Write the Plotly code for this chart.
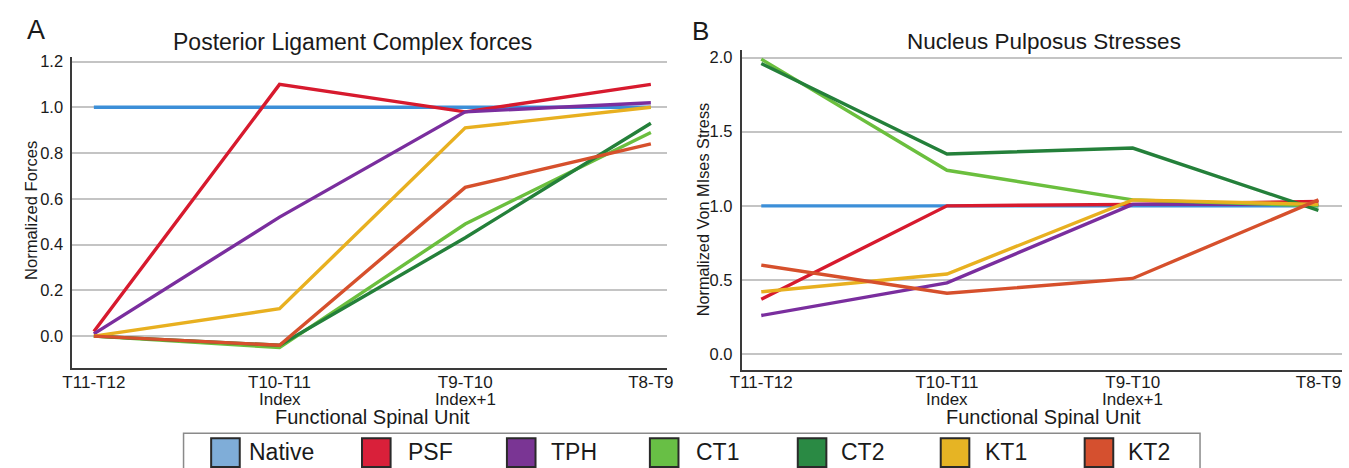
import plotly.graph_objects as go

W, H = 1349, 468

# ---------------- data ----------------
categories = ["T11-T12", "T10-T11", "T9-T10", "T8-T9"]
sub_labels = ["", "Index", "Index+1", ""]
series_names = ["Native", "PSF", "TPH", "CT1", "CT2", "KT1", "KT2"]
line_colors = ["#3c8fd8", "#d71a2e", "#7a2e9e", "#6bbf3e", "#24803a", "#e8b020", "#d6502c"]
swatch_colors = ["#7fadd8", "#d9203a", "#7a3594", "#68bf45", "#2a8a44", "#e6b424", "#d5502f"]

# Panel A: Posterior Ligament Complex forces (normalized)
plc_native = [1.00, 1.00, 1.00, 1.00]
plc_psf = [0.02, 1.10, 0.98, 1.10]
plc_tph = [0.01, 0.52, 0.98, 1.02]
plc_ct1 = [0.00, -0.05, 0.49, 0.89]
plc_ct2 = [0.00, -0.04, 0.43, 0.93]
plc_kt1 = [0.00, 0.12, 0.91, 1.00]
plc_kt2 = [0.00, -0.04, 0.65, 0.84]

# Panel B: Nucleus Pulposus stresses (normalized von Mises)
np_native = [1.00, 1.00, 1.00, 1.00]
np_psf = [0.37, 1.00, 1.01, 1.03]
np_tph = [0.26, 0.48, 1.01, 1.01]
np_ct1 = [1.99, 1.24, 1.04, 1.00]
np_ct2 = [1.96, 1.35, 1.39, 0.97]
np_kt1 = [0.42, 0.54, 1.04, 1.01]
np_kt2 = [0.60, 0.41, 0.51, 1.04]

plc_series = [plc_native, plc_psf, plc_tph, plc_ct1, plc_ct2, plc_kt1, plc_kt2]
np_series = [np_native, np_psf, np_tph, np_ct1, np_ct2, np_kt1, np_kt2]

yticks_a = [0.0, 0.2, 0.4, 0.6, 0.8, 1.0, 1.2]
yticks_b = [0.0, 0.5, 1.0, 1.5, 2.0]

# ---------------- layout constants (pixels) ----------------
FONT = "Liberation Sans, Arial, sans-serif"
TXT = "#1a1a1a"
legend_swatch_x = [202, 355, 502, 647, 797, 942, 1088]
legend_text_x = [238, 400, 545, 692, 839, 985, 1130]


def px(x):
    return x / W


def py(y):
    return 1 - y / H


fig = go.Figure()
for name, color, ya, yb in zip(series_names, line_colors, plc_series, np_series):
    fig.add_trace(go.Scatter(x=categories, y=ya, mode="lines", name=name,
                             line=dict(color=color, width=3.4), xaxis="x", yaxis="y",
                             showlegend=False))
    fig.add_trace(go.Scatter(x=categories, y=yb, mode="lines", name=name,
                             line=dict(color=color, width=3.4), xaxis="x2", yaxis="y2",
                             showlegend=False))

xcommon = dict(showline=True, linecolor="#3a3a3a", linewidth=1.5, ticks="",
               zeroline=False, showgrid=False, type="category",
               tickfont=dict(family=FONT, size=17, color=TXT))
ycommon = dict(showline=True, linecolor="#3a3a3a", linewidth=1.5, ticks="",
               zeroline=False, showgrid=True, gridcolor="#c4c4c4", gridwidth=1.5,
               tickformat=".1f", ticklabelstandoff=4,
               tickfont=dict(family=FONT, size=16.5, color=TXT))

fig.update_layout(
    width=W, height=H,
    margin=dict(l=0, r=0, t=0, b=0),
    paper_bgcolor="white", plot_bgcolor="white",
    font=dict(family=FONT, color=TXT),
    xaxis=dict(domain=[px(61), px(664)], anchor="y", range=[-0.117, 3.085],
               ticklabelstandoff=-2, **xcommon),
    yaxis=dict(domain=[py(367), py(53)], anchor="x", range=[-0.1386, 1.2217],
               tickvals=yticks_a, **ycommon),
    xaxis2=dict(domain=[px(740), 1.0], anchor="y2", range=[-0.106, 3.127],
                ticklabelstandoff=-4, **xcommon),
    yaxis2=dict(domain=[py(369.5), py(46)], anchor="x2", range=[-0.110, 2.054],
                tickvals=yticks_b, **ycommon),
)

ann = []
# sub-labels under category ticks
for xr in ["x", "x2"]:
    for c, s in zip(categories, sub_labels):
        if s:
            ann.append(dict(x=c, xref=xr, y=py(399), yref="paper", text=s, showarrow=False,
                            font=dict(family=FONT, size=17, color=TXT),
                            xanchor="center", yanchor="middle"))


def label(text, x, y, size, angle=0, anchor="center"):
    ann.append(dict(x=px(x), y=py(y), xref="paper", yref="paper", text=text,
                    showarrow=False, xanchor=anchor, yanchor="middle", textangle=angle,
                    font=dict(family=FONT, size=size, color=TXT)))


label("Posterior Ligament Complex forces", 345, 38, 23)
label("Nucleus Pulposus Stresses", 1047, 38, 22.5)
label("A", 24, 26, 27)
label("B", 698, 27, 26)
label("Functional Spinal Unit", 366, 417, 20)
label("Functional Spinal Unit", 1046, 417, 20)
label("Normalized Forces", 20, 208, 16.6, angle=-90)
label("Normalized Von MIses Stress", 701, 207, 16.3, angle=-90)

# legend: boxed row of swatches
shapes = [dict(type="rect", xref="paper", yref="paper", x0=px(174), x1=px(1205),
               y0=py(475), y1=py(433), line=dict(color="#8a8a8a", width=1.5),
               fillcolor="rgba(0,0,0,0)")]
for name, sc, sx, tx in zip(series_names, swatch_colors, legend_swatch_x, legend_text_x):
    shapes.append(dict(type="rect", xref="paper", yref="paper", x0=px(sx), x1=px(sx + 29),
                       y0=py(467), y1=py(438), fillcolor=sc,
                       line=dict(color="#2a2a2a", width=2)))
    label(name, tx, 452, 23, anchor="left")

fig.update_layout(annotations=ann, shapes=shapes)
fig.write_html("out.html")
